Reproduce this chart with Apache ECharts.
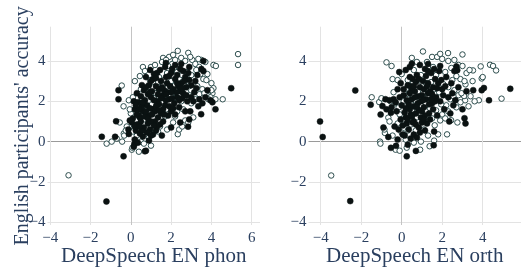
<!DOCTYPE html>
<html>
<head>
<meta charset="utf-8">
<script src="https://cdn.jsdelivr.net/npm/echarts@6/dist/echarts.min.js"></script>
<style>html,body{margin:0;padding:0;background:#fff}#c{width:521px;height:270px}</style>
</head>
<body>
<div id="c"></div>
<script>
// ---- data ----
const xTitles = ['DeepSpeech EN phon', 'DeepSpeech EN orth'];
const yTitle = "English participants' accuracy";
const xTicksPhon = [-4, -2, 0, 2, 4, 6];
const xTicksOrth = [-4, -2, 0, 2, 4];
const yTicks = [-4, -2, 0, 2, 4];

// left panel, filled markers [x, y]
const phonFilled = [
[-1.21,-2.97],[-1.44,0.24],[-0.78,0.24],[-0.36,-0.73],[-0.73,1.01],[-0.61,2.10],[-0.61,2.55],[4.98,2.65],[4.2,1.6],[3.6,4.0],
[3.49,1.36],[2.84,0.74],[1.74,3.9],[0.96,3.55],[1.54,0.3],[0.7,-0.48],[0.18,-0.12],[0.15,-0.25],[0.05,0.95],[-0.12,0.6],
[-0.1,0.38],[0.2,0.1],[0.35,-0.05],[0.9,0.05],[1.25,0.55],[2.0,0.7],[2.45,0.95],[2.9,1.1],[3.1,2.0],[3.4,2.1],
[3.7,2.2],[3.8,2.55],[3.95,2.05],[4.05,1.95],[3.3,3.3],[3.5,3.6],[2.9,3.7],[2.5,3.85],[2.2,3.8],[1.3,3.4],
[1.1,3.1],[0.75,3.2],[0.55,2.8],[0.3,2.4],[0.15,2.0],[0.2,1.6],[0.4,1.3],[0.5,1.0],[0.65,0.7],[0.85,0.9],
[0.6,1.5],[0.8,1.8],[0.9,1.3],[1.0,2.2],[1.1,1.6],[1.2,1.0],[1.3,2.0],[1.4,2.6],[1.5,1.4],[1.6,2.3],
[1.7,1.8],[1.8,2.9],[1.9,2.1],[2.0,1.5],[2.1,2.6],[2.2,3.1],[2.3,2.2],[2.4,1.7],[2.5,2.9],[2.6,2.4],
[2.7,3.2],[2.8,2.0],[3.0,2.8],[2.9,3.05],[2.6,3.5],[2.3,3.3],[2.0,3.4],[1.75,3.2],[1.5,3.0],[1.25,2.75],
[1.05,2.5],[0.85,2.35],[0.7,2.05],[0.55,1.75],[0.45,1.2],[0.3,0.85],[0.95,0.6],[1.1,0.35],[1.35,1.2],[1.6,1.0],
[1.85,1.3],[2.15,1.9],[2.45,2.5],[2.75,2.7],[3.15,2.45],[3.2,3.0],[0.35,1.95],[0.65,2.55],[0.9,2.8],[1.15,3.35],
[1.45,3.55],[1.7,3.7],[2.05,3.6],[0.8,0.45],[1.0,1.0],[1.2,1.5],[1.4,1.85],[1.65,2.55],[1.95,2.75],[2.25,2.45],
[2.55,2.15],[3.6,3.5],[3.55,1.9],[2.95,1.5],[0.1,1.15],[-0.05,1.05],[0.25,0.55],[0.6,0.25],[0.75,-0.45],[0.45,0.4],
[0.7,1.25],[0.95,1.65],[1.15,2.05],[1.35,2.35],[1.55,2.7],[1.8,2.45],[2.05,2.15],[2.35,2.75],[2.65,3.0],[2.85,3.4],
[0.5,2.25],[0.75,2.7],[1.0,3.0],[1.25,3.15],[1.6,1.6],[1.9,1.75],[2.2,1.35],[0.2,0.75],[0.4,1.6],[1.45,0.85],
[3.0,2.2],[3.25,2.65],[2.45,3.6],[1.9,3.25],[1.0,0.3],[0.55,0.55],[1.3,0.75],[2.7,1.5],[3.35,1.75],[1.75,2.05],
[0.3,1.35],[0.6,1.95],[0.85,1.15],[1.05,1.35],[1.25,1.75],[1.5,2.15],[1.75,2.35],[2.0,2.45],[2.3,2.9],[2.55,2.65],
[0.45,0.75],[0.75,1.5],[1.15,0.8],[1.4,1.55],[1.65,1.35],[2.1,1.65],[2.4,2.05],[2.75,2.3],[0.25,1.8],[0.95,2.45]
];
// left panel, open markers [x, y]
const phonOpen = [
[-3.09,-1.67],[5.32,4.34],[5.32,3.80],[4.56,2.1],[4.1,2.65],[4.05,2.4],[4.1,3.8],[4.22,3.75],[3.5,4.05],[3.7,3.95],
[-0.45,2.78],[-0.36,1.75],[-1.2,-0.1],[-0.95,0.0],[-0.7,0.15],[-0.43,0.0],[-0.35,0.4],[-0.33,0.3],[0.05,-0.4],[0.08,-0.3],
[0.4,-0.5],[1.0,-0.2],[2.33,0.37],[0.6,3.7],[1.0,3.7],[1.9,4.2],[2.1,4.3],[2.33,4.5],[2.85,4.4],[2.5,4.15],
[2.7,4.0],[3.05,4.05],[3.2,3.85],[1.6,4.15],[1.55,3.95],[3.4,3.7],[3.6,3.1],[3.75,3.05],[3.9,2.5],[3.95,2.2],
[4.2,2.1],[3.4,2.35],[3.2,2.1],[3.0,1.9],[2.9,2.3],[3.1,1.2],[2.7,1.05],[2.4,0.6],[2.1,0.95],[1.8,0.6],
[1.45,0.75],[1.3,1.35],[0.9,0.2],[0.3,0.3],[0.15,0.7],[0.0,1.4],[0.1,2.2],[-0.1,2.05],[-0.05,1.6],[0.25,1.05],
[0.2,3.0],[0.45,3.25],[0.7,3.5],[0.95,3.05],[1.2,3.8],[1.4,3.2],[1.6,2.8],[1.8,3.4],[2.0,3.0],[2.2,2.8],
[2.4,3.6],[2.6,3.0],[2.8,3.45],[3.0,3.3],[3.3,2.75],[2.75,2.45],[2.5,2.0],[2.3,1.5],[2.0,2.3],[1.75,1.6],
[1.5,2.1],[1.25,2.4],[1.05,1.85],[0.8,1.6],[0.55,2.15],[0.35,1.5],[0.7,1.1],[1.0,0.75],[1.55,1.9],[1.9,2.5],
[2.15,2.15],[2.45,2.65],[2.65,2.8],[2.9,2.75],[3.25,3.55],[3.45,3.35],[2.05,3.85],[1.85,3.75],[0.5,0.0],[0.65,-0.1],
[-0.2,0.75],[-0.55,0.95],[0.5,2.6],[0.85,2.7],[1.15,2.15],[1.35,2.95],[3.8,3.35],[4.0,2.9],[3.55,2.6],[2.2,1.25],
[2.6,1.6],[0.95,0.5],[1.7,1.25],[2.95,4.2],[2.2,4.05],[1.75,4.05],[3.35,4.1],[3.65,2.4],[3.85,2.1],[4.0,2.55],
[2.85,0.95],[2.55,0.75],[1.35,0.5],[0.1,0.5],[-0.25,0.55],[1.1,2.95],[1.45,2.45],[1.65,3.05],[2.3,3.45],[2.55,3.3]
];
// right panel, filled markers [x, y]
const orthFilled = [
[-4.03,1.0],[-3.9,0.23],[-2.54,-2.95],[-2.29,2.54],[-1.53,1.83],[-1.04,1.34],[-0.8,2.1],[-0.66,0.23],[-0.53,-0.31],[-0.28,-0.21],
[0.25,-0.73],[0.7,-0.46],[1.58,-0.18],[5.36,2.62],[4.31,2.05],[4.06,2.66],[3.95,2.55],[3.53,2.55],[3.1,1.16],[3.15,0.9],
[3.0,1.6],[2.7,3.73],[2.35,1.0],[0.5,3.86],[-0.12,3.45],[-0.95,1.76],[-0.53,1.43],[2.74,3.54],
[0.0,1.8],[0.1,2.3],[0.2,1.2],[0.3,2.8],[0.35,0.6],[0.4,1.6],[0.5,2.1],[0.55,3.1],[0.6,1.0],[0.65,2.5],
[0.7,1.4],[0.75,3.3],[0.8,1.9],[0.85,0.7],[0.9,2.7],[0.95,1.2],[1.0,2.3],[1.05,3.0],[1.1,1.7],[1.15,3.6],
[1.2,2.1],[1.25,0.9],[1.3,2.9],[1.35,1.4],[1.4,2.5],[1.45,3.4],[1.5,1.9],[1.55,2.7],[1.6,0.5],[1.65,3.1],
[1.7,2.2],[1.75,1.3],[1.8,2.9],[1.85,3.5],[1.9,2.0],[2.0,2.6],[2.1,1.6],[2.2,3.2],[2.3,2.2],[2.45,2.9],
[2.6,3.5],[2.55,1.8],[0.15,0.3],[0.3,-0.15],[0.45,0.15],[0.6,0.35],[0.2,3.55],[0.4,3.7],[0.9,3.8],[1.3,3.85],
[-0.2,2.6],[-0.1,2.2],[-0.25,1.5],[-0.05,1.1],[-0.15,0.6],[-0.35,0.75],[-0.5,1.7],[-0.4,2.1],[-0.6,2.05],[-0.75,1.6],
[-0.9,0.7],[-0.2,0.1],[0.05,0.35],[0.25,0.9],[0.45,1.35],[0.5,2.55],[0.7,2.95],[0.8,2.25],[1.0,1.5],[1.1,2.6],
[1.2,3.25],[1.35,1.85],[1.5,2.35],[1.65,2.0],[1.75,2.65],[1.95,3.05],[2.05,2.3],[0.35,1.85],[0.6,1.75],[0.85,1.55],
[1.0,0.95],[1.15,0.55],[0.75,0.2],[0.55,0.95],[0.25,2.05],[0.15,1.45],[-0.05,2.9],[0.4,3.2],[1.6,3.6],[1.9,3.75],
[2.5,2.4],[2.8,2.7],[3.2,2.5],[2.4,1.4],[2.65,2.05],[0.3,1.1],[0.65,2.2],[0.95,2.0],[1.25,2.75],[1.4,1.1],
[0.1,2.6],[0.45,2.75],[0.85,3.1],[1.15,1.3],[1.55,1.6],[0.05,0.8],[-0.3,1.95],[0.9,0.45],[2.15,2.75],[1.3,3.5],
[0.2,1.65],[0.5,1.25],[0.75,1.7],[1.05,2.05],[1.3,2.4],[0.4,2.4],[0.7,0.85],[1.1,1.1],[0.6,2.75],[1.45,2.1]
];
// right panel, open markers [x, y]
const orthOpen = [
[-3.48,-1.68],[-0.75,3.93],[-0.5,3.75],[-0.45,3.1],[-1.48,2.2],[-1.11,1.96],[-1.07,0.0],[-1.05,-0.1],[-0.83,0.43],[-0.66,1.19],
[-0.3,-0.4],[-0.1,-0.45],[0.2,0.1],[0.91,-0.4],[1.38,-0.23],[1.63,0.81],[1.8,0.36],[2.24,0.36],[2.44,1.06],[1.05,4.47],
[2.29,4.39],[3.0,4.32],[3.9,3.73],[3.95,3.13],[3.52,3.53],[4.36,3.81],[4.51,3.75],[4.66,3.53],[4.93,2.13],[3.81,2.05],
[3.13,2.05],[3.08,2.26],[3.15,2.84],[0.5,4.15],[0.75,3.95],[1.5,4.2],[1.75,4.2],[2.0,4.1],[2.3,4.0],[2.6,4.05],
[2.8,3.8],[3.0,3.75],[3.2,3.4],[3.35,3.55],[2.9,3.1],[2.7,3.25],[2.5,3.05],[2.3,2.7],[2.6,2.55],[2.8,2.3],
[2.95,2.4],[2.4,2.1],[2.2,1.8],[2.0,1.35],[1.9,1.05],[1.7,1.55],[1.5,1.15],[1.3,0.3],[0.95,0.0],[0.6,-0.05],
[0.3,0.55],[0.1,0.85],[-0.1,1.35],[-0.3,1.9],[-0.4,2.45],[-0.2,3.05],[0.0,3.35],[0.2,2.6],[0.35,2.35],[0.5,1.55],
[0.65,2.05],[0.8,2.8],[0.95,3.3],[1.05,2.45],[1.2,1.25],[1.3,2.25],[1.45,2.95],[1.55,3.7],[1.7,3.3],[1.85,2.45],
[2.05,2.85],[2.15,3.45],[1.25,3.95],[0.6,3.55],[0.3,3.05],[0.1,2.0],[-0.2,0.9],[-0.45,0.3],[-0.6,1.0],[-1.0,2.15],
[-0.85,0.6],[0.45,0.85],[0.75,1.2],[0.95,1.8],[1.4,1.65],[1.6,2.6],[1.95,1.85],[2.3,1.5],[2.7,1.7],[2.9,1.95],
[3.4,2.25],[3.6,2.0],[3.5,3.0],[1.1,0.6],[0.25,-0.3],[-0.55,2.0],[4.0,3.2],[1.9,4.35],[2.45,3.65],[3.1,3.0],
[2.55,2.25],[0.0,0.45],[-0.15,1.7],[0.7,0.55],[1.6,0.05],[2.15,1.15],[3.3,1.75],[2.75,0.95],[1.2,2.9],[0.55,2.9]
];

// ---- chart ----
const FONT = '"Liberation Serif", "DejaVu Serif", serif';
const TXT = '#2a3f5f';
const GRID = '#e3e3e3';
const fmt = v => String(v).replace('-', '\u2212');
function splitColors(ticks, zeroColor) { return ticks.map(t => t === 0 ? zeroColor : GRID); }

function xAxis(idx, ticks, min, max, title) {
  return {
    gridIndex: idx, type: 'value', min: min, max: max,
    axisLine: { show: false },
    axisTick: { show: false, customValues: ticks },
    axisLabel: { customValues: ticks, formatter: fmt, color: TXT, fontFamily: FONT, fontSize: 15, margin: 6 },
    splitLine: { show: true, lineStyle: { color: splitColors(ticks, '#c4c4c4'), width: 1 } },
    name: title, nameLocation: 'middle', nameGap: 21, nameMoveOverlap: false,
    nameTextStyle: { color: TXT, fontFamily: FONT, fontSize: 21, verticalAlign: 'top' }
  };
}
function yAxis(idx, title) {
  return {
    gridIndex: idx, type: 'value', min: -4.134, max: 5.698,
    axisLine: { show: false },
    axisTick: { show: false, customValues: yTicks },
    axisLabel: { customValues: yTicks, formatter: fmt, color: TXT, fontFamily: FONT, fontSize: 15, margin: 2 },
    splitLine: { show: true, lineStyle: { color: splitColors(yTicks, '#9a9a9a'), width: 1 } },
    name: title, nameLocation: 'middle', nameGap: 15, nameMoveOverlap: false,
    nameTextStyle: { color: TXT, fontFamily: FONT, fontSize: 20 }
  };
}
function filled(data, i) {
  return { type: 'scatter', xAxisIndex: i, yAxisIndex: i, data: data, symbol: 'circle', symbolSize: 6,
    itemStyle: { color: '#0b1212', borderColor: '#0b1212', borderWidth: 0.5, opacity: 1 }, silent: true };
}
function open(data, i) {
  return { type: 'scatter', xAxisIndex: i, yAxisIndex: i, data: data, symbol: 'circle', symbolSize: 5.5,
    itemStyle: { color: '#ffffff', borderColor: '#2f4f4f', borderWidth: 1, opacity: 1 }, silent: true };
}

const chart = echarts.init(document.getElementById('c'), null, { renderer: 'canvas' });
chart.setOption({
  animation: false,
  backgroundColor: '#ffffff',
  grid: [
    { left: 47.5, top: 26.7, width: 212.5, height: 198.3, outerBoundsMode: 'none', containLabel: false },
    { left: 308.5, top: 26.7, width: 212.5, height: 198.3, outerBoundsMode: 'none', containLabel: false }
  ],
  xAxis: [
    xAxis(0, xTicksPhon, -4.134, 6.41, xTitles[0]),
    xAxis(1, xTicksOrth, -4.60, 5.89, xTitles[1])
  ],
  yAxis: [ yAxis(0, yTitle), yAxis(1, '') ],
  series: [
    open(phonOpen, 0), filled(phonFilled, 0),
    open(orthOpen, 1), filled(orthFilled, 1)
  ]
});
</script>
</body>
</html>
